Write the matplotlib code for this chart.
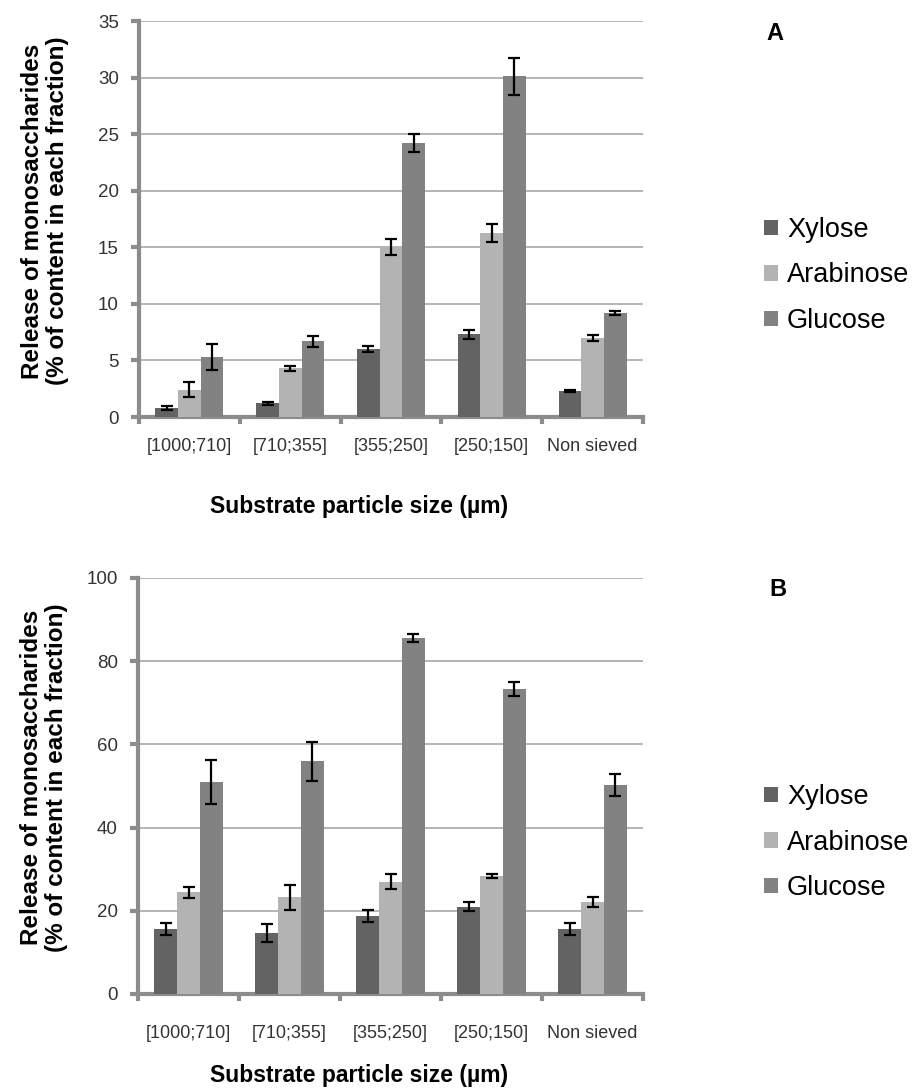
import numpy as np
import matplotlib
matplotlib.use("Agg")
import matplotlib.pyplot as plt
from matplotlib.ticker import FixedLocator

plt.rcParams['font.family'] = ['Liberation Sans', 'DejaVu Sans']

categories = ["[1000;710]", "[710;355]", "[355;250]", "[250;150]", "Non sieved"]
series = ["Xylose", "Arabinose", "Glucose"]
colors = ["#636363", "#b3b3b3", "#828282"]

# panel A values (% of content in each fraction)
a_xylose = [0.8, 1.2, 6.0, 7.3, 2.3]
a_arabinose = [2.4, 4.3, 15.0, 16.3, 7.0]
a_glucose = [5.3, 6.7, 24.2, 30.1, 9.2]
a_xylose_err = [0.15, 0.1, 0.25, 0.4, 0.08]
a_arabinose_err = [0.65, 0.2, 0.7, 0.8, 0.28]
a_glucose_err = [1.15, 0.5, 0.8, 1.6, 0.18]

# panel B values
b_xylose = [15.7, 14.6, 18.7, 21.0, 15.7]
b_arabinose = [24.4, 23.2, 27.0, 28.4, 22.1]
b_glucose = [50.9, 55.9, 85.6, 73.3, 50.2]
b_xylose_err = [1.4, 2.2, 1.5, 1.0, 1.4]
b_arabinose_err = [1.3, 2.9, 1.8, 0.5, 1.1]
b_glucose_err = [5.3, 4.6, 1.0, 1.7, 2.6]

W, H = 913, 1090
fig = plt.figure(figsize=(W / 100, H / 100), dpi=100)

def box(l, t, r, b):
    return [l / W, 1 - b / H, (r - l) / W, (b - t) / H]

ax_a = fig.add_axes(box(139, 21, 643, 417))
ax_b = fig.add_axes(box(138, 578, 643, 994))

grid_col = "#a8a8a8"
spine_col = "#8c8c8c"
bw = 0.225
x = np.arange(len(categories))


def draw(ax, vals, errs, ymax, step, xpad, xlab_y, panel, legend_y, panel_xy):
    bars = []
    for k in range(3):
        b = ax.bar(x + (k - 1) * bw, vals[k], bw, color=colors[k], label=series[k],
                   zorder=3, linewidth=0)
        ax.errorbar(x + (k - 1) * bw, vals[k], yerr=errs[k], fmt="none", ecolor="black",
                    elinewidth=1.6, capsize=4, capthick=1.6, zorder=4)
        bars.append(b)
    ax.set_xlim(-0.5, len(categories) - 0.5)
    ax.set_ylim(0, ymax)
    ax.set_yticks(np.arange(0, ymax + 0.1, step))
    ax.yaxis.grid(True, color=grid_col, linewidth=1.2, zorder=0)
    for s in ["top", "right"]:
        ax.spines[s].set_visible(False)
    for s in ["left", "bottom"]:
        ax.spines[s].set_color(spine_col)
        ax.spines[s].set_linewidth(3)
    ax.set_xticks(x)
    ax.set_xticklabels(categories)
    ax.xaxis.set_minor_locator(FixedLocator(np.arange(-0.5, len(categories), 1)))
    ax.tick_params(axis="x", which="major", length=0, pad=xpad, labelsize=13, labelcolor="#333333")
    ax.tick_params(axis="x", which="minor", length=5, width=3, color=spine_col)
    ax.tick_params(axis="y", length=6, width=3, color=spine_col, pad=8.5, labelsize=13.5,
                   labelcolor="#333333")
    ax.set_ylabel("Release of monosaccharides\n(% of content in each fraction)",
                  fontsize=17.5, fontweight="bold", linespacing=1.15)
    ax.yaxis.set_label_coords(-0.138, 0.52)
    ax.set_xlabel("Substrate particle size (µm)", fontsize=16.5, fontweight="bold")
    ax.xaxis.set_label_coords(0.437, xlab_y)
    fig.text(panel_xy[0] / W, 1 - panel_xy[1] / H, panel, fontsize=17, fontweight="bold",
             ha="left", va="center")
    fig.legend(handles=bars, loc="upper left", bbox_to_anchor=(764 / W, 1 - legend_y / H),
               frameon=False, fontsize=19.5, handlelength=0.5, handleheight=0.5,
               handletextpad=0.35, labelspacing=0.72, borderpad=0, borderaxespad=0)


draw(ax_a, [a_xylose, a_arabinose, a_glucose], [a_xylose_err, a_arabinose_err, a_glucose_err],
     35, 5, 15, -0.197, "A", 217, (766, 33))
draw(ax_b, [b_xylose, b_arabinose, b_glucose], [b_xylose_err, b_arabinose_err, b_glucose_err],
     100, 20, 22, -0.168, "B", 784, (769, 590))

fig.savefig("out.png", dpi=100)
